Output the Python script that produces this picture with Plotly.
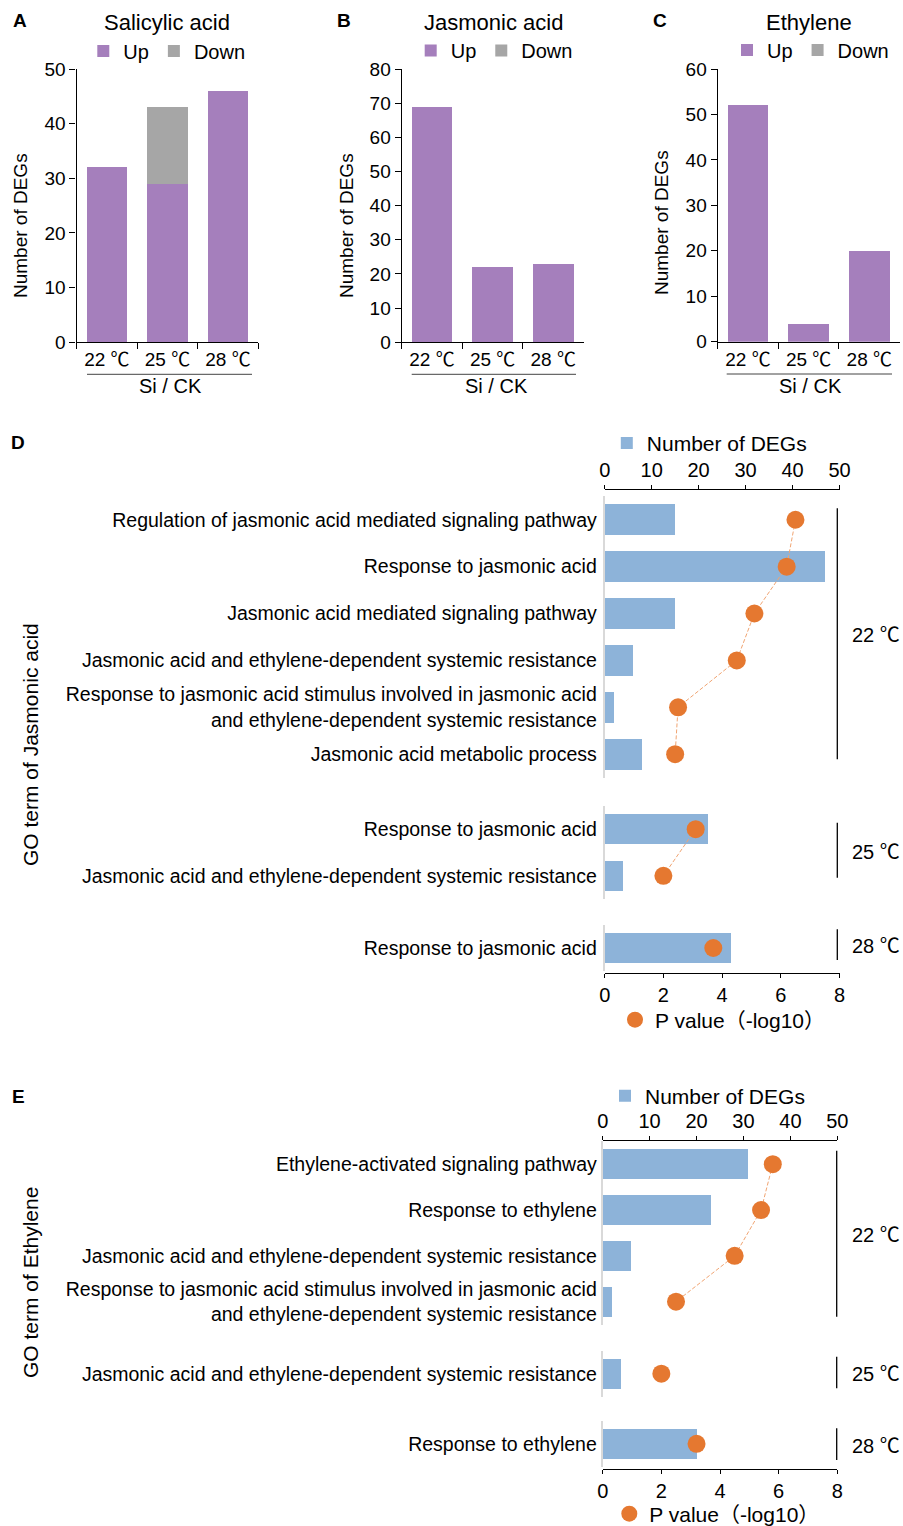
import plotly.graph_objects as go

W, H = 903, 1526
def px(x):
    return x / W
def py(y):
    return 1 - y / H

# ---------------- data ----------------
temps = ["22 ℃", "25 ℃", "28 ℃"]
sa_up = [32, 29, 46]
sa_down = [0, 14, 0]
ja_up = [69, 22, 23]
ja_down = [0, 0, 0]
et_up = [52, 4, 20]
et_down = [0, 0, 0]

stim = "Response to jasmonic acid stimulus involved in jasmonic acid<br>and ethylene-dependent systemic resistance"
ja_go_22 = ["Regulation of jasmonic acid mediated signaling pathway",
            "Response to jasmonic acid",
            "Jasmonic acid mediated signaling pathway",
            "Jasmonic acid and ethylene-dependent systemic resistance",
            stim,
            "Jasmonic acid metabolic process"]
ja_deg_22 = [15, 47, 15, 6, 2, 8]
ja_p_22 = [6.5, 6.2, 5.1, 4.5, 2.5, 2.4]
ja_go_25 = ["Response to jasmonic acid",
            "Jasmonic acid and ethylene-dependent systemic resistance"]
ja_deg_25 = [22, 4]
ja_p_25 = [3.1, 2.0]
ja_go_28 = ["Response to jasmonic acid"]
ja_deg_28 = [27]
ja_p_28 = [3.7]

et_go_22 = ["Ethylene-activated signaling pathway",
            "Response to ethylene",
            "Jasmonic acid and ethylene-dependent systemic resistance",
            stim]
et_deg_22 = [31, 23, 6, 2]
et_p_22 = [5.8, 5.4, 4.5, 2.5]
et_go_25 = ["Jasmonic acid and ethylene-dependent systemic resistance"]
et_deg_25 = [4]
et_p_25 = [2.0]
et_go_28 = ["Response to ethylene"]
et_deg_28 = [20]
et_p_28 = [3.2]

# ---------------- style ----------------
FONT = "Liberation Sans, Arial, Noto Sans CJK SC, sans-serif"
CJK = "Noto Sans CJK SC"
purple = "#A57FBC"
gray = "#A6A6A6"
blue = "#8DB3D9"
orange = "#E57830"
dashcol = "#F0A472"

def deg(s):
    return s.replace("℃", "<span style='font-family:%s'>℃</span>" % CJK)

fig = go.Figure()

# ---- panels A, B, C ----
abc = [("x", "y", sa_up, sa_down, "legend"),
       ("x2", "y2", ja_up, ja_down, "legend2"),
       ("x3", "y3", et_up, et_down, "legend3")]
for xa, ya, up, down, lg in abc:
    fig.add_trace(go.Bar(x=temps, y=up, name="Up", marker=dict(color=purple, line=dict(width=0)),
                         width=0.67, xaxis=xa, yaxis=ya, legend=lg))
    fig.add_trace(go.Bar(x=temps, y=down, name="Down", marker=dict(color=gray, line=dict(width=0)),
                         width=0.67, xaxis=xa, yaxis=ya, legend=lg))

# ---- panels D, E ----
def go_panel(groups, xbar, xdot, yaxes, leg_bar, leg_dot):
    for i, ((cats, degs, pv), ya) in enumerate(zip(groups, yaxes)):
        fig.add_trace(go.Bar(y=cats, x=degs, orientation="h", name="Number of DEGs",
                             marker=dict(color=blue, line=dict(width=0)), width=0.655,
                             xaxis=xbar, yaxis=ya, legend=leg_bar, showlegend=(i == 0)))
    for i, ((cats, degs, pv), ya) in enumerate(zip(groups, yaxes)):
        if len(pv) > 1:
            fig.add_trace(go.Scatter(y=cats, x=pv, mode="lines",
                                     line=dict(color=dashcol, width=1, dash="4px,2px"),
                                     xaxis=xdot, yaxis=ya, showlegend=False, hoverinfo="skip"))
    for i, ((cats, degs, pv), ya) in enumerate(zip(groups, yaxes)):
        fig.add_trace(go.Scatter(y=cats, x=pv, mode="markers", name="P value（-log10）",
                                 marker=dict(color=orange, size=18),
                                 xaxis=xdot, yaxis=ya, legend=leg_dot, showlegend=(i == 0)))

go_panel([(ja_go_22, ja_deg_22, ja_p_22), (ja_go_25, ja_deg_25, ja_p_25), (ja_go_28, ja_deg_28, ja_p_28)],
         "x4", "x5", ["y4", "y5", "y6"], "legend4", "legend5")
go_panel([(et_go_22, et_deg_22, et_p_22), (et_go_25, et_deg_25, et_p_25), (et_go_28, et_deg_28, et_p_28)],
         "x6", "x7", ["y7", "y8", "y9"], "legend6", "legend7")

# ---------------- axes ----------------
tickfont = dict(family=FONT, size=19, color="black")

def cat_x(x0, x1, anchor):
    return dict(domain=[px(x0), px(x1)], anchor=anchor, type="category", tickson="boundaries",
                tickmode="array", tickvals=temps, ticktext=[deg(t) for t in temps],
                ticks="outside", ticklen=6, tickwidth=1.3, tickcolor="black",
                showline=True, linecolor="black", linewidth=1.3, showgrid=False, zeroline=False,
                tickfont=tickfont, fixedrange=True)

def val_y(y0, y1, ymax, anchor):
    return dict(domain=[py(y0), py(y1)], anchor=anchor, range=[0, ymax], dtick=10,
                ticks="outside", ticklen=6, tickwidth=1.3, tickcolor="black",
                showline=True, linecolor="black", linewidth=1.3, showgrid=False, zeroline=False,
                tickfont=tickfont, fixedrange=True)

layout_axes = dict(
    xaxis=cat_x(76.6, 258.3, "y"),
    yaxis=val_y(342.3, 69, 50, "x"),
    xaxis2=cat_x(401.7, 583.5, "y2"),
    yaxis2=val_y(342.3, 69, 80, "x2"),
    xaxis3=cat_x(717.7, 899.6, "y3"),
    yaxis3=val_y(341.7, 69, 60, "x3"),
)

def top_x(x0, x1, ypos):
    return dict(domain=[px(x0), px(x1)], anchor="free", position=py(ypos), side="top",
                range=[0, 50], dtick=10, ticks="outside", ticklen=4, tickwidth=1.2, tickcolor="black",
                showline=True, linecolor="black", linewidth=1.2, showgrid=False, zeroline=False,
                tickfont=dict(family=FONT, size=20, color="black"), fixedrange=True)

def bot_x(over, ypos):
    return dict(overlaying=over, anchor="free", position=py(ypos), side="bottom",
                range=[0, 8], dtick=2, ticks="outside", ticklen=4, tickwidth=1.2, tickcolor="black",
                showline=True, linecolor="black", linewidth=1.2, showgrid=False, zeroline=False,
                tickfont=dict(family=FONT, size=20, color="black"), fixedrange=True)

def go_y(y_bottom, y_top, n, anchor, standoff):
    return dict(domain=[py(y_bottom), py(y_top)], anchor=anchor, type="category",
                range=[n - 0.5, -0.5], showline=True, linecolor="#D9D9D9", linewidth=2,
                ticks="", showgrid=False, zeroline=False, ticklabelstandoff=standoff,
                tickfont=dict(family=FONT, size=19.5, color="black"), fixedrange=True)

layout_axes.update(
    xaxis4=top_x(604.7, 839.5, 489.3),
    xaxis5=bot_x("x4", 972.7),
    yaxis4=go_y(777.6, 496.3, 6, "x4", 2),
    yaxis5=go_y(899.2, 805.8, 2, "x4", 2),
    yaxis6=go_y(971.4, 924.6, 1, "x4", 2),
    xaxis6=top_x(602.7, 837.3, 1140.0),
    xaxis7=bot_x("x6", 1469.3),
    yaxis7=go_y(1324.6, 1141.3, 4, "x6", 0),
    yaxis8=go_y(1396.6, 1350.8, 1, "x6", 0),
    yaxis9=go_y(1466.7, 1420.9, 1, "x6", 0),
)

# ---------------- legends ----------------
def leg(xc, yc, size=20):
    return dict(x=px(xc - 20), y=py(yc), xanchor="left", yanchor="middle", orientation="h",
                font=dict(family=FONT, size=size, color="black"), bgcolor="rgba(0,0,0,0)",
                borderwidth=0, tracegroupgap=0, traceorder="normal",
                itemclick=False, itemdoubleclick=False)

legends = dict(
    legend=leg(103.3, 51, 20),
    legend2=leg(430.7, 50.5, 20),
    legend3=leg(747, 50, 20),
    legend4=leg(626.8, 443.3, 21),
    legend5=leg(635, 1020, 21),
    legend6=leg(625, 1096, 21),
    legend7=leg(629.3, 1514, 21),
)

# ---------------- annotations ----------------
ann = []
def text(x, y, s, size=20, bold=False, angle=0, xanchor="center"):
    ann.append(dict(x=px(x), y=py(y), xref="paper", yref="paper", text=("<b>%s</b>" % s) if bold else s,
                    showarrow=False, xanchor=xanchor, yanchor="middle", textangle=angle,
                    font=dict(family=FONT, size=size, color="black")))

for lx, ly, letter in [(20, 20, "A"), (344, 20, "B"), (660, 20, "C"), (18, 443, "D"), (18, 1096, "E")]:
    text(lx, ly, letter, 19, bold=True)
text(166.7, 22, "Salicylic acid", 22)
text(494, 22, "Jasmonic acid", 22)
text(808.7, 22, "Ethylene", 22)
text(20, 226, "Number of DEGs", 19, angle=-90)
text(346, 226, "Number of DEGs", 19, angle=-90)
text(661, 223, "Number of DEGs", 19, angle=-90)
text(170.8, 386, "Si / CK", 20)
text(496.7, 386, "Si / CK", 20)
text(810.8, 386, "Si / CK", 20)
text(30, 745, "GO term of Jasmonic acid", 21, angle=-90)
text(30, 1283, "GO term of Ethylene", 21, angle=-90)

shapes = []
def vline(x, y0, y1, color="black", w=1.3):
    shapes.append(dict(type="line", xref="paper", yref="paper", x0=px(x), x1=px(x), y0=py(y0), y1=py(y1),
                       line=dict(color=color, width=w)))
def hline(x0, x1, y, color="#444444", w=1):
    shapes.append(dict(type="line", xref="paper", yref="paper", x0=px(x0), x1=px(x1), y0=py(y), y1=py(y),
                       line=dict(color=color, width=w)))

hline(87, 252, 374.3)
hline(411.7, 576, 374.3)
hline(726.7, 892, 374)

for xl, y0, y1, lab in [(837.3, 508.3, 759.3, "22 ℃"), (837.3, 822.7, 877.7, "25 ℃"), (837.3, 929.3, 960, "28 ℃"),
                        (836.7, 1150.7, 1316.7, "22 ℃"), (836.7, 1356.7, 1388.3, "25 ℃"), (836.7, 1428.3, 1460, "28 ℃")]:
    vline(xl, y0, y1)
    text(xl + 13, (y0 + y1) / 2, deg(lab), 20, xanchor="left")

fig.update_layout(
    width=W, height=H,
    margin=dict(l=0, r=0, t=0, b=0, autoexpand=False),
    paper_bgcolor="white", plot_bgcolor="rgba(0,0,0,0)",
    barmode="stack",
    font=dict(family=FONT, size=19, color="black"),
    annotations=ann, shapes=shapes,
    **layout_axes, **legends,
)

fig.write_html(
    "out.html",
    config=dict(displayModeBar=False),
    post_script="document.documentElement.style.overflow='hidden';"
                "document.body.style.margin='0';document.body.style.overflow='hidden';",
)
